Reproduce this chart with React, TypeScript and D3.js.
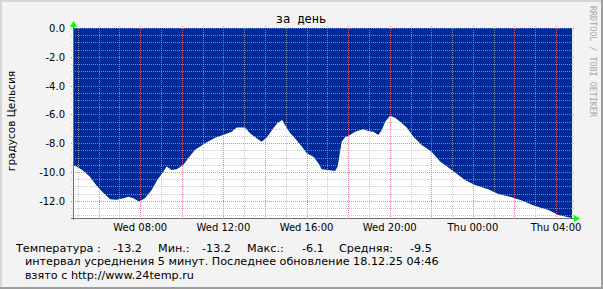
import React from "react";
import * as d3 from "d3";

const hours = [4.77, 4.95, 5.26, 5.58, 5.91, 6.22, 6.55, 6.87, 7.19, 7.43, 7.67, 7.94, 8.23, 8.55, 8.82, 9.11, 9.27, 9.51, 9.75, 10.07, 10.31, 10.64, 11.12, 11.6, 12.08, 12.4, 12.64, 13.04, 13.28, 13.6, 13.84, 14.08, 14.4, 14.61, 14.83, 14.96, 15.2, 15.44, 15.77, 16.01, 16.33, 16.57, 16.73, 17.05, 17.37, 17.5, 17.61, 17.69, 17.85, 18.09, 18.33, 18.73, 18.97, 19.21, 19.45, 19.62, 19.78, 20.02, 20.26, 20.5, 20.82, 21.14, 21.54, 22.02, 22.42, 22.82, 23.3, 23.62, 24.1, 24.74, 25.22, 25.87, 26.35, 26.99, 27.63, 28.11, 28.59, 28.77];
const temps = [-9.56, -9.63, -9.91, -10.33, -10.97, -11.44, -11.9, -11.94, -11.83, -11.72, -11.83, -12.06, -11.83, -11.25, -10.56, -9.98, -9.63, -9.86, -9.81, -9.51, -9.05, -8.45, -8.01, -7.62, -7.38, -7.2, -6.92, -6.92, -7.31, -7.66, -7.9, -7.62, -6.97, -6.58, -6.39, -6.74, -7.27, -7.66, -8.24, -8.7, -8.94, -9.4, -9.81, -9.86, -9.93, -9.63, -8.59, -7.9, -7.59, -7.43, -7.2, -7.03, -7.15, -7.2, -7.43, -7.08, -6.51, -6.1, -6.23, -6.51, -6.92, -7.55, -8.13, -8.59, -9.28, -9.7, -10.21, -10.56, -10.9, -11.2, -11.53, -11.76, -11.99, -12.36, -12.64, -12.99, -13.15, -13.2];

const startHour = 4 + 46 / 60;
const endHour = 28 + 46 / 60;
const yMajorTicks = [0, -2, -4, -6, -8, -10, -12];
const title = "за день";
const yTitle = "градусов Цельсия";
const watermark = "RRDTOOL / TOBI OETIKER";
const legendLine1 = [
  { text: "Температура :", x: 16 },
  { text: "-13.2", x: 113 },
  { text: "Мин.:", x: 158 },
  { text: "-13.2", x: 202 },
  { text: "Макс.:", x: 247 },
  { text: "-6.1", x: 302 },
  { text: "Средняя:", x: 339 },
  { text: "-9.5", x: 410 },
];
const legendLine2 = "интервал усреднения 5 минут. Последнее обновление 18.12.25 04:46";
const legendLine3 = "взято с http://www.24temp.ru";

const W = 603;
const H = 289;
const L = 73, R = 572, T = 28, B = 218;
const BLUE = "#002A97";
const FONT = "'DejaVu Sans', sans-serif";
const MONO = "'DejaVu Sans Mono', monospace";
const MINOR = "rgba(180,180,190,0.68)";
const MAJOR = "rgba(255,60,100,0.5)";

const base = new Date(2025, 11, 17, 0, 0, 0).getTime();
const toDate = (h: number) => new Date(base + h * 3600 * 1000);

export default function App() {
  const x = d3.scaleTime().domain([toDate(startHour), toDate(endHour)]).range([L, R]);
  const y = d3.scaleLinear().domain([-13.2, 0]).range([B, T]);
  const data = hours.map((h, i) => ({ t: toDate(h), v: temps[i] }));
  const area = d3
    .area<{ t: Date; v: number }>()
    .x((d) => x(d.t))
    .y0(y(0))
    .y1((d) => y(d.v));

  const domain = x.domain();
  const minorX = d3.timeHour.every(1)!.range(domain[0], domain[1]);
  const majorX = d3.timeHour.every(2)!.range(domain[0], domain[1]);
  const labelX = d3.timeHour.every(4)!.range(domain[0], domain[1]);
  const fmt = d3.timeFormat("%a %H:%M");
  const minorY = d3.range(0, -13.01, -0.5);

  const px = (v: number) => Math.round(v) + 0.5;

  return (
    <svg width={W} height={H} style={{ position: "absolute", left: 0, top: 0 }} xmlns="http://www.w3.org/2000/svg">
      <rect x={0} y={0} width={W} height={H} fill="#F3F3F3" />
      <rect x={0} y={0} width={W} height={2} fill="#D6D6D6" />
      <rect x={0} y={0} width={2} height={H} fill="#D6D6D6" />
      <rect x={0} y={H - 2} width={W} height={2} fill="#9E9E9E" />
      <rect x={W - 2} y={0} width={2} height={H} fill="#9E9E9E" />

      <rect x={L} y={T} width={R - L} height={B - T} fill="#FFFFFF" />
      <path d={area(data) || ""} fill={BLUE} />

      <g shapeRendering="crispEdges">
        {minorX.map((d, i) => (
          <line key={"mx" + i} x1={px(x(d))} x2={px(x(d))} y1={T - 2} y2={B + 2} stroke={MINOR} strokeDasharray="1,1" />
        ))}
        {minorY.map((v, i) => (
          <line key={"my" + i} x1={L - 2} x2={R + 2} y1={px(y(v))} y2={px(y(v))} stroke={MINOR} strokeDasharray="1,1" />
        ))}
        {majorX.map((d, i) => (
          <line key={"Mx" + i} x1={px(x(d))} x2={px(x(d))} y1={T - 2} y2={B + 2} stroke={MAJOR} strokeDasharray="1,1" />
        ))}
        {yMajorTicks.map((v, i) => (
          <line key={"My" + i} x1={L - 2} x2={R + 2} y1={px(y(v))} y2={px(y(v))} stroke={MAJOR} strokeDasharray="1,1" />
        ))}
        <line x1={L + 0.5} x2={L + 0.5} y1={T - 2} y2={B + 2} stroke="#707070" />
        <line x1={L - 2} x2={R + 3} y1={B + 0.5} y2={B + 0.5} stroke="#707070" />
      </g>
      <path d={`M${L - 3},${T - 1}L${L + 4},${T - 1}L${L + 0.5},${T - 7}Z`} fill="#00FF00" />
      <path d={`M${R + 2},${B - 3}L${R + 2},${B + 4}L${R + 8},${B + 0.5}Z`} fill="#00FF00" />

      {yMajorTicks.map((v, i) => (
        <text key={"yl" + i} x={65} y={y(v) + 4} textAnchor="end" fontFamily={FONT} fontSize={10} fill="#000">
          {v.toFixed(1)}
        </text>
      ))}
      {labelX.map((d, i) => (
        <text key={"xl" + i} x={x(d)} y={231} textAnchor="middle" fontFamily={FONT} fontSize={10} fill="#000">
          {fmt(d)}
        </text>
      ))}

      <text x={301} y={23} textAnchor="middle" fontFamily={MONO} fontSize={12} fill="#000">{title}</text>
      <text transform="translate(15,121) rotate(-90)" textAnchor="middle" fontFamily={FONT} fontSize={10.5} fill="#000">{yTitle}</text>
      <text transform="translate(590,6) rotate(90)" textAnchor="start" fontFamily={MONO} fontSize={8.4} fill="#A8A8A8">{watermark}</text>

      {legendLine1.map((p, i) => (
        <text key={"lg" + i} x={p.x} y={251.5} fontFamily={FONT} fontSize={11.2} fill="#000">{p.text}</text>
      ))}
      <text x={25} y={264.5} fontFamily={FONT} fontSize={11.2} fill="#000">{legendLine2}</text>
      <text x={25} y={279} fontFamily={FONT} fontSize={11.2} fill="#000">{legendLine3}</text>
    </svg>
  );
}
